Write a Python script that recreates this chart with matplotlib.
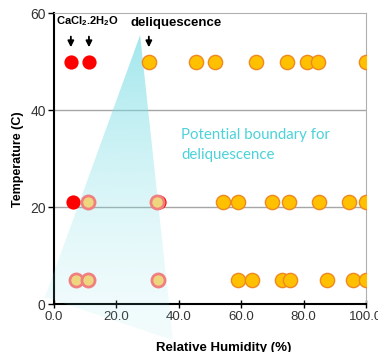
import matplotlib
matplotlib.use("Agg")
import matplotlib.pyplot as plt
import numpy as np
from matplotlib.patches import Polygon

plt.rcParams['font.family'] = ['Liberation Sans', 'DejaVu Sans']

# relative humidity (%) of each experiment, by temperature row
rh_50_red = [5.4, 11.2]
rh_50_orange = [30.4, 45.5, 51.5, 64.6, 74.6, 81.0, 84.7, 100.0]
rh_21_red = [6.1, 33.5]
rh_21_mixed = [10.9, 33.0]
rh_21_orange = [54.1, 58.9, 70.0, 75.3, 85.0, 94.5, 100.0]
rh_5_mixed = [7.1, 10.9, 33.3]
rh_5_orange = [58.9, 63.4, 73.0, 75.6, 87.6, 95.9, 100.0]

# potential deliquescence boundary (RH, T) corners
boundary_rh = [27.6, -2.9, 38.1]
boundary_t = [55.5, 1.5, -7.4]

arrow_rh = [5.4, 11.2, 30.4]

fig = plt.figure(figsize=(3.78, 3.52), dpi=100)
ax = fig.add_axes([54/378, 47.7/352, 312/378, 291/352])

ms = 105
ax.scatter(rh_50_red, [50]*len(rh_50_red), s=ms, color='#FF0000', lw=0, zorder=6)
ax.scatter(rh_50_orange, [50]*len(rh_50_orange), s=ms, facecolor='#FFC000',
           edgecolor='#EE8822', lw=1, zorder=6)
ax.scatter(rh_21_red, [21]*len(rh_21_red), s=ms, color='#FF0000', lw=0, zorder=6)
ax.scatter(rh_21_mixed, [21]*len(rh_21_mixed), s=ms*0.85, facecolor='#EED67E',
           edgecolor='#F08080', lw=2, zorder=7)
ax.scatter(rh_21_orange, [21]*len(rh_21_orange), s=ms, facecolor='#FFC000',
           edgecolor='#EE8822', lw=1, zorder=6)
ax.scatter(rh_5_mixed, [5]*len(rh_5_mixed), s=ms*0.85, facecolor='#EED67E',
           edgecolor='#F08080', lw=2, zorder=7)
ax.scatter(rh_5_orange, [5]*len(rh_5_orange), s=ms, facecolor='#FFC000',
           edgecolor='#EE8822', lw=1, zorder=6)

# shaded boundary with a fading gradient (allowed to spill past the axes)
poly = Polygon(np.column_stack([boundary_rh, boundary_t]), closed=True,
               facecolor='none', edgecolor='none', transform=ax.transData)
fade = np.linspace(0, 1, 100)
grad = np.zeros((100, 2, 4))
grad[..., 0] = 122/255
grad[..., 1] = 221/255
grad[..., 2] = 229/255
grad[..., 3] = (0.6 * (1 - fade)**1.6 + 0.1)[:, None]
im = ax.imshow(grad, extent=[min(boundary_rh), max(boundary_rh), min(boundary_t), max(boundary_t)],
               origin='upper', aspect='auto', zorder=5, interpolation='bilinear')
im.set_clip_box(fig.bbox)
im.set_clip_path(poly)

for x in arrow_rh:
    ax.annotate('', xy=(x, 53.0), xytext=(x, 55.2),
                arrowprops=dict(arrowstyle='-|>', color='black', lw=1.3,
                                mutation_scale=9, shrinkA=0, shrinkB=0))

ax.text(0.5, 58.4, 'CaCl$_\\mathregular{2}$.2H$_\\mathregular{2}$O', fontsize=8,
        fontweight='bold', va='center', ha='left')
ax.text(24.5, 58.0, 'deliquescence', fontsize=9.5, fontweight='bold', va='center', ha='left')
ax.text(40.8, 36.3, 'Potential boundary for\ndeliquescence', fontsize=10.8,
        color='#4DD2DA', family=['Lato', 'DejaVu Sans'], va='top', ha='left',
        linespacing=1.55)

ax.set_xlim(0, 100)
ax.set_ylim(0, 60)
ax.set_xticks([0, 20, 40, 60, 80, 100])
ax.set_xticklabels(['0.0', '20.0', '40.0', '60.0', '80.0', '100.0'])
ax.set_yticks([0, 20, 40, 60])
for y in [20, 40]:
    ax.axhline(y, color='#A6A6A6', lw=1, zorder=0.5)

ax.spines['top'].set_color('#B0B0B0')
ax.spines['right'].set_color('#B0B0B0')
ax.spines['left'].set_linewidth(1.5)
ax.spines['bottom'].set_linewidth(1.5)
ax.tick_params(axis='x', direction='inout', length=6, width=1, labelsize=9.5,
               labelcolor='#333333', pad=2)
ax.tick_params(axis='y', direction='out', length=4, width=1, labelsize=10,
               labelcolor='#333333', pad=2)

ax.set_ylabel('Temperature (C)', fontsize=9, fontweight='bold', labelpad=4)
fig.text(224/378, 1 - 348/352, 'Relative Humidity (%)', fontsize=9.5,
         fontweight='bold', ha='center', va='center')

fig.savefig('out.png', dpi=100)
